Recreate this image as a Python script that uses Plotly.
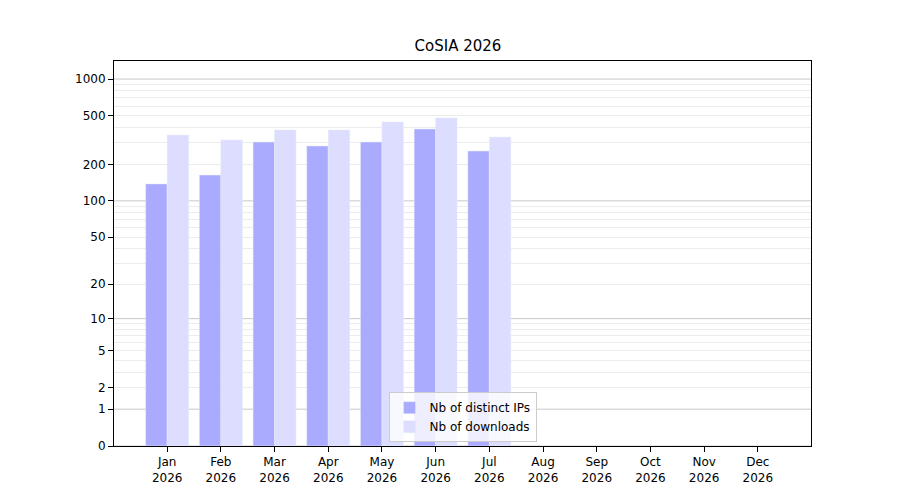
import numpy as np
import plotly.graph_objects as go

months = ["Jan","Feb","Mar","Apr","May","Jun","Jul","Aug","Sep","Oct","Nov","Dec"]
year = "2026"
ips = [138, 163, 305, 283, 305, 390, 257, 0, 0, 0, 0, 0]
downloads = [348, 317, 383, 383, 445, 480, 335, 0, 0, 0, 0, 0]
tick_values = [0, 1, 2, 5, 10, 20, 50, 100, 200, 500, 1000]

def f(v):
    return np.log10(1 + np.asarray(v, dtype=float))

labels = [f"{m}<br>{year}" for m in months]
fig = go.Figure()
fig.add_bar(x=labels, y=f(ips), name="Nb of distinct IPs", marker_color="#aaaaff",
            customdata=ips, hovertemplate="%{customdata}")
fig.add_bar(x=labels, y=f(downloads), name="Nb of downloads", marker_color="#ddddff",
            customdata=downloads, hovertemplate="%{customdata}")

minor = [m * 10**e for e in range(0, 3) for m in range(2, 10)]
major = [0, 1, 10, 100, 1000]
fig.update_layout(
    width=900, height=500, plot_bgcolor="white", paper_bgcolor="white",
    font=dict(family="DejaVu Sans", size=12, color="black"),
    title=dict(text="CoSIA 2026", x=0.5, xanchor="center", y=0.925, yanchor="middle",
               font=dict(size=15)),
    margin=dict(l=106, r=97, t=53, b=62),
    barmode="group", bargap=0.2, bargroupgap=0,
    legend=dict(x=0.5, xanchor="center", y=0.01, yanchor="bottom",
                bordercolor="#cccccc", borderwidth=1, bgcolor="rgba(255,255,255,0.8)"),
    xaxis=dict(range=[-0.99, 11.99], showline=True, linecolor="black", mirror=True,
               ticks="outside", tickcolor="black", showgrid=False),
    yaxis=dict(range=[0, 3.148], showline=True, linecolor="black", mirror=True,
               ticks="outside", tickcolor="black", tickmode="array",
               tickvals=list(f(tick_values)), ticktext=[str(t) for t in tick_values],
               showgrid=False, zeroline=False,
               minor=dict(tickmode="array", tickvals=list(f(minor)), showgrid=True,
                          gridcolor="#ececec", ticks="")),
)
for v in major:
    fig.add_hline(y=float(f(v)), line_color="#c8c8c8", line_width=1, layer="below")
fig.write_html("out.html")
